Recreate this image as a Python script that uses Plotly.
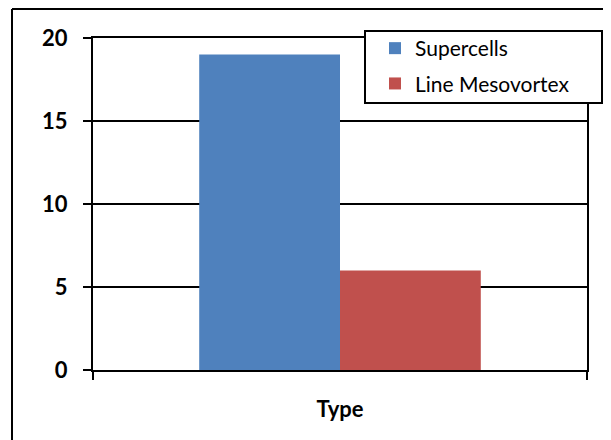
import plotly.graph_objects as go

categories = ["Type"]
series_names = ["Supercells", "Line Mesovortex"]
series_values = [[19], [6]]
series_colors = ["#4F81BD", "#C0504D"]
y_ticks = [0, 5, 10, 15, 20]

# The page has an 8px body margin; work in screen pixels and shift.
OFF = 8
W, H = 611 - OFF, 440 - OFF
# screen-space plot box
SX0, SX1, SY0, SY1 = 93, 587, 38, 370
L, R, T, B = SX0 - OFF, W - (SX1 - OFF), SY0 - OFF, H - (SY1 - OFF)
PW, PH = W - L - R, H - T - B

def px(x):
    return (x - OFF - L) / PW

def py(y):
    return (H - B - (y - OFF)) / PH

fig = go.Figure()
for i, (name, vals, col) in enumerate(zip(series_names, series_values, series_colors)):
    fig.add_trace(go.Bar(x=categories, y=vals, name=name, marker=dict(color=col, line=dict(width=0)),
                         legendgroup=f"g{i}"))

font = "Lato, 'Open Sans', sans-serif"
fig.update_layout(
    width=W, height=H,
    margin=dict(l=L, r=R, t=T, b=B, autoexpand=False),
    paper_bgcolor="white", plot_bgcolor="white",
    barmode="group", bargap=0.43, bargroupgap=0,
    font=dict(family=font, color="black"),
    showlegend=True,
    legend=dict(x=px(375), y=py(28), xanchor="left", yanchor="top",
                bgcolor="rgba(0,0,0,0)", borderwidth=0,
                font=dict(size=21, family=font, color="black"),
                traceorder="grouped", tracegroupgap=5),
    xaxis=dict(range=[-0.5, 0.5], showticklabels=False, showgrid=False, zeroline=False,
               showline=True, linecolor="black", linewidth=2, mirror=True,
               ticks="outside", tickson="boundaries", ticklen=8, tickwidth=2, tickcolor="black",
               title=dict(text="<b>Type</b>", font=dict(size=22, family=font, color="black"), standoff=31),
               automargin=False),
    yaxis=dict(range=[0, 20], tickvals=y_ticks, ticktext=[f"<b>{v}</b>" for v in y_ticks],
               tickfont=dict(size=22, family=font, color="black"),
               showgrid=True, gridcolor="black", gridwidth=2, zeroline=False,
               showline=True, linecolor="black", linewidth=2, mirror=True,
               ticks="outside", ticklen=8, tickwidth=2, tickcolor="black",
               ticklabelstandoff=11, automargin=False),
    shapes=[
        dict(type="rect", xref="paper", yref="paper", x0=px(365), x1=px(602), y0=py(103), y1=py(31),
             line=dict(color="black", width=2), fillcolor="white", layer="above"),
        dict(type="line", xref="paper", yref="paper", x0=px(12), x1=px(12), y0=py(9), y1=py(445),
             line=dict(color="black", width=2)),
        dict(type="line", xref="paper", yref="paper", x0=px(12), x1=px(610), y0=py(9), y1=py(9),
             line=dict(color="black", width=2)),
        dict(type="line", xref="paper", yref="paper", x0=px(609.5), x1=px(609.5), y0=py(9), y1=py(445),
             line=dict(color="#a0a0a0", width=1)),
    ],
)

fig.write_html("out.html")
